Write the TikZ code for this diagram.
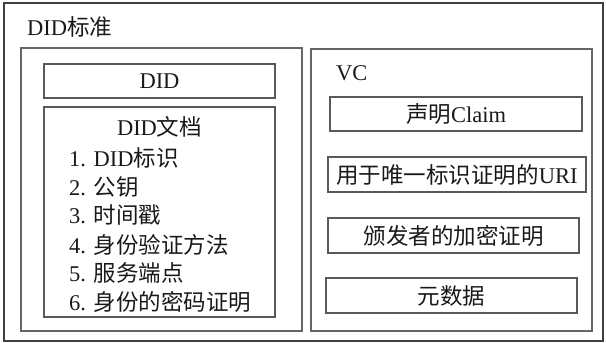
\documentclass[tikz,border=0pt]{standalone}
\usepackage{fontspec}
\setmainfont{Liberation Serif}
\newfontfamily\cjk{Noto Sans CJK SC}
\newcommand{\zh}[1]{{\cjk #1}}
\begin{document}
\begin{tikzpicture}[x=1pt,y=-1pt,
  frame/.style={draw=black!75,line width=1.3pt},
  panel/.style={draw=black!60,line width=1.4pt},
  itembox/.style={draw=black!65,line width=1.2pt},
  txt/.style={inner sep=0pt,font=\fontsize{22.5}{26}\selectfont,text=black!90},
]
\useasboundingbox (0,0) rectangle (606,343);
\draw[frame] (4,3) rectangle (603,341);
\node[txt,anchor=west] (title) at (27,27) {DID\zh{标准}};
% left panel
\draw[panel] (21,48) rectangle (302,331);
\draw[itembox] (44,64) rectangle (275,98);
\node[txt] (did) at (159.5,81) {DID};
\draw[itembox] (44,107) rectangle (275,317);
\node[txt] (doc) at (159.5,127) {DID\zh{文档}};
\node[txt,anchor=west] (i1) at (69,158) {1. DID\zh{标识}};
\node[txt,anchor=west] (i2) at (69,187) {2. \zh{公钥}};
\node[txt,anchor=west] (i3) at (69,215) {3. \zh{时间戳}};
\node[txt,anchor=west] (i4) at (69,245) {4. \zh{身份验证方法}};
\node[txt,anchor=west] (i5) at (69,273) {5. \zh{服务端点}};
\node[txt,anchor=west] (i6) at (69,302) {6. \zh{身份的密码证明}};
% right panel
\draw[panel] (311,49) rectangle (592,331);
\node[txt,anchor=west] (vc) at (336,73) {VC};
\draw[itembox] (330,97) rectangle (582,131);
\node[txt] (claim) at (456,114) {\zh{声明}Claim};
\draw[itembox] (328,157) rectangle (586,192);
\node[txt] (uri) at (457,174.5) {\zh{用于唯一标识证明的}URI};
\draw[itembox] (328,218) rectangle (579,253);
\node[txt] (sig) at (453.5,235.5) {\zh{颁发者的加密证明}};
\draw[itembox] (326,278) rectangle (577,313);
\node[txt] (meta) at (451.5,295.5) {\zh{元数据}};
\end{tikzpicture}
\end{document}
